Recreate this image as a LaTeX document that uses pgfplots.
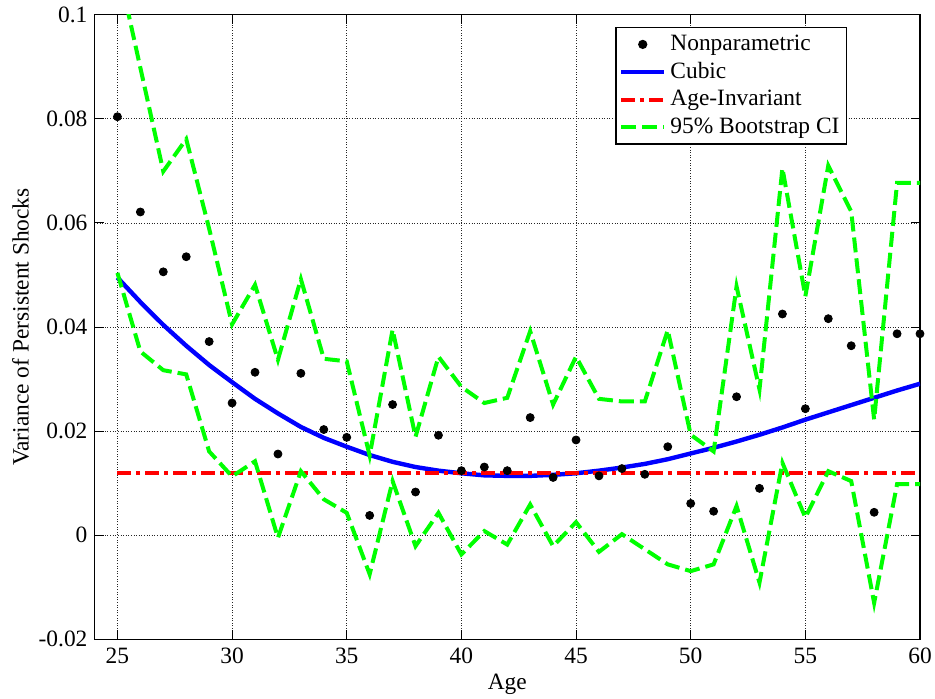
\documentclass[border=0pt]{standalone}
\usepackage{fontspec}
\setmainfont{Liberation Serif}
\usepackage{pgfplots}
\pgfplotsset{compat=1.18}

\begin{document}
\begin{tikzpicture}[font=\fontsize{11.7}{14}\selectfont]
% page = 935x698 px at 0.5pt per px
\path[use as bounding box] (-47.25pt,-29.35pt) rectangle (420.25pt,319.65pt);
\begin{axis}[
    at={(0pt,0pt)}, anchor=south west,
    scale only axis,
    width=412.75pt, height=312.3pt,
    xmin=24, xmax=60, ymin=-0.02, ymax=0.1,
    xtick={25,30,...,60},
    xticklabels={25,30,35,40,45,50,55,60},
    ytick={-0.02,0,0.02,0.04,0.06,0.08,0.1},
    yticklabels={-0.02,0,0.02,0.04,0.06,0.08,0.1},
    scaled y ticks=false,
    tick label style={font=\rmfamily\fontsize{11.7}{14}\selectfont},
    xticklabel style={yshift=-1pt},
    tick align=inside, tick pos=both,
    major tick length=4.5pt,
    grid=major,
    major grid style={black!85, line width=0.4pt, dash pattern=on 0.5pt off 0.8pt},
    axis line style={line width=0.6pt},
    every tick/.style={black, line width=0.5pt},
    xlabel={Age}, ylabel={Variance of Persistent Shocks},
    every axis x label/.style={at={(axis description cs:0.5,0)}, anchor=base, yshift=-24.85pt},
    every axis y label/.style={at={(axis description cs:0,0.5)}, xshift=-32.9pt, rotate=90, anchor=base},
    legend style={at={(0.9116,0.9803)}, anchor=north east, draw=black,
        line width=0.6pt, font=\fontsize{11.7}{14}\selectfont,
        inner sep=1.5pt, row sep=0pt,
        nodes={inner ysep=1.5pt, inner xsep=2pt, text height=8.4pt, text depth=2.4pt}},
    legend cell align=left,
    legend image code/.code={\draw[mark repeat=2, mark phase=2, #1]
        plot coordinates {(0pt,0pt) (10.75pt,0pt) (21.5pt,0pt)};},
]
\addplot[only marks, mark=*, mark size=2pt, black] coordinates {
(25,0.0804) (26,0.0621) (27,0.0506) (28,0.0535) (29,0.0372) (30,0.0254)
(31,0.0313) (32,0.0156) (33,0.0311) (34,0.0203) (35,0.0188) (36,0.0038)
(37,0.0251) (38,0.0083) (39,0.0192) (40,0.0124) (41,0.0131) (42,0.0124)
(43,0.0226) (44,0.0111) (45,0.0183) (46,0.0114) (47,0.0128) (48,0.0117)
(49,0.0170) (50,0.0061) (51,0.0046) (52,0.0266) (53,0.0090) (54,0.0425)
(55,0.0243) (56,0.0416) (57,0.0364) (58,0.0044) (59,0.0387) (60,0.0387)
};
\addlegendentry{Nonparametric}
\addplot[blue, line width=2.2pt] coordinates {
(25,0.0495) (26,0.0448) (27,0.0404) (28,0.0364) (29,0.0327) (30,0.0294)
(31,0.0262) (32,0.0234) (33,0.0208) (34,0.0187) (35,0.0170) (36,0.0154)
(37,0.0141) (38,0.0131) (39,0.0124) (40,0.0119) (41,0.0115) (42,0.0114)
(43,0.0114) (44,0.0116) (45,0.0119) (46,0.0124) (47,0.0130) (48,0.0137)
(49,0.0146) (50,0.0157) (51,0.0168) (52,0.0180) (53,0.0193) (54,0.0207)
(55,0.0222) (56,0.0236) (57,0.0250) (58,0.0264) (59,0.0278) (60,0.0291)
};
\addlegendentry{Cubic}
\addplot[red, line width=2pt, dash pattern=on 7pt off 2.5pt on 2pt off 2.5pt] coordinates {
(25,0.0120) (60,0.0120)
};
\addlegendentry{Age-Invariant}
\addplot[green, line width=2pt, dash pattern=on 7.5pt off 3pt] coordinates {
(25,0.1098) (26,0.0898) (27,0.0699) (28,0.0761) (29,0.0589) (30,0.0405)
(31,0.0481) (32,0.0337) (33,0.0492) (34,0.0339) (35,0.0334) (36,0.0153)
(37,0.0395) (38,0.0189) (39,0.0343) (40,0.0285) (41,0.0254) (42,0.0264)
(43,0.0392) (44,0.0251) (45,0.0343) (46,0.0262) (47,0.0257) (48,0.0257)
(49,0.0394) (50,0.0193) (51,0.0161) (52,0.0478) (53,0.0280) (54,0.0705)
(55,0.0459) (56,0.0710) (57,0.0622) (58,0.0222) (59,0.0677) (60,0.0677)
};
\addlegendentry{95\% Bootstrap CI}
\addplot[green, line width=2pt, dash pattern=on 7.5pt off 3pt, forget plot] coordinates {
(25,0.0504) (26,0.0353) (27,0.0317) (28,0.0309) (29,0.0161) (30,0.0113)
(31,0.0142) (32,-0.0005) (33,0.0123) (34,0.0069) (35,0.0043) (36,-0.0075)
(37,0.0104) (38,-0.0021) (39,0.0043) (40,-0.0037) (41,0.0008) (42,-0.0018)
(43,0.0059) (44,-0.0021) (45,0.0025) (46,-0.0032) (47,0.0002) (48,-0.0027)
(49,-0.0056) (50,-0.0069) (51,-0.0056) (52,0.0056) (53,-0.0091) (54,0.0139)
(55,0.0034) (56,0.0123) (57,0.0104) (58,-0.0130) (59,0.0098) (60,0.0098)
};
\end{axis}
\end{tikzpicture}
\end{document}
